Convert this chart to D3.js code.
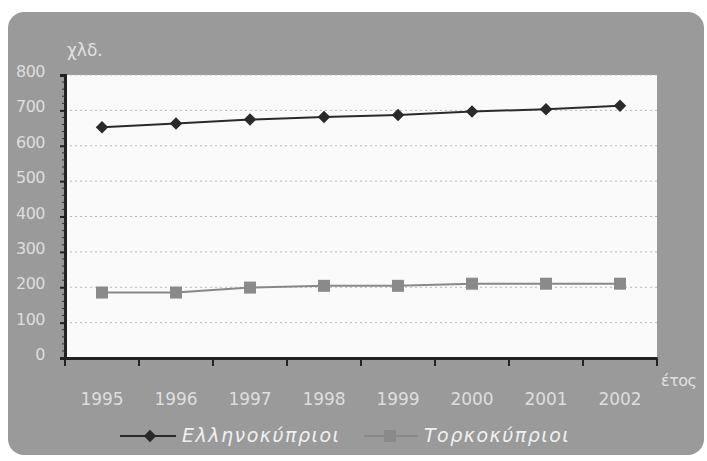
<!DOCTYPE html>
<html>
<head>
<meta charset="utf-8">
<script src="https://d3js.org/d3.v7.min.js"></script>
<style>
  body { margin: 0; background: #fff; }
  text { font-family: "DejaVu Sans", sans-serif; }
</style>
</head>
<body>
<div id="chart"></div>
<script>
// Δεδομένα (χιλιάδες)
const years = ["1995", "1996", "1997", "1998", "1999", "2000", "2001", "2002"];
const greekCypriots = [652, 663, 674, 681, 687, 697, 703, 713];
const turkishCypriots = [185, 185, 199, 204, 204, 210, 210, 210];
const yTicks = [0, 100, 200, 300, 400, 500, 600, 700, 800];

const width = 707;
const height = 461;
const margin = { top: 75, right: 50, bottom: 103, left: 65 };

const svg = d3.select("#chart").append("svg")
  .attr("width", width)
  .attr("height", height);

// Γκρι πλαίσιο
svg.append("rect")
  .attr("x", 8).attr("y", 12)
  .attr("width", 696).attr("height", 443)
  .attr("rx", 16)
  .attr("fill", "#9a9a9a");

const x = d3.scaleBand()
  .domain(years)
  .range([margin.left, width - margin.right]);

const y = d3.scaleLinear()
  .domain([0, 800])
  .range([height - margin.bottom, margin.top]);

// Περιοχή σχεδίασης
svg.append("rect")
  .attr("x", margin.left).attr("y", margin.top)
  .attr("width", width - margin.left - margin.right)
  .attr("height", height - margin.top - margin.bottom)
  .attr("fill", "#fafafa");

// Οριζόντιες γραμμές πλέγματος
svg.append("g")
  .selectAll("line")
  .data(yTicks.filter(d => d > 0))
  .join("line")
  .attr("x1", margin.left).attr("x2", width - margin.right)
  .attr("y1", d => y(d)).attr("y2", d => y(d))
  .attr("stroke", "#b8b8b8")
  .attr("stroke-width", 1)
  .attr("stroke-dasharray", "2,3");

// Άξονας y
const yAxis = svg.append("g")
  .attr("transform", `translate(${margin.left},0)`)
  .call(d3.axisLeft(y).tickValues(yTicks).tickSize(5).tickPadding(15));
yAxis.select(".domain").attr("stroke", "#222").attr("stroke-width", 3);
yAxis.selectAll(".tick line").attr("stroke", "#222").attr("stroke-width", 2);
yAxis.selectAll(".tick text")
  .attr("fill", "#dedede")
  .attr("dy", "0.1em")
  .style("font-size", "16px")
  .style("letter-spacing", "-0.5px");

// Μικρές υποδιαιρέσεις
svg.append("g")
  .selectAll("line")
  .data(d3.range(0, 801, 20).filter(d => d % 100 !== 0))
  .join("line")
  .attr("x1", margin.left - 3).attr("x2", margin.left)
  .attr("y1", d => y(d)).attr("y2", d => y(d))
  .attr("stroke", "#333")
  .attr("stroke-width", 1);

// Άξονας x
const xAxis = svg.append("g")
  .attr("transform", `translate(0,${height - margin.bottom})`)
  .call(d3.axisBottom(x).tickSize(0).tickPadding(35));
xAxis.select(".domain").attr("stroke", "#222").attr("stroke-width", 3);
xAxis.selectAll(".tick text")
  .attr("fill", "#dedede")
  .style("font-size", "17px");

// Υποδιαιρέσεις στα όρια των κατηγοριών
const bounds = years.map(d => x(d)).concat([x(years[years.length - 1]) + x.bandwidth()]);
svg.append("g")
  .selectAll("line")
  .data(bounds)
  .join("line")
  .attr("x1", d => d).attr("x2", d => d)
  .attr("y1", height - margin.bottom)
  .attr("y2", height - margin.bottom + 8)
  .attr("stroke", "#222")
  .attr("stroke-width", 2);

const cx = d => x(d) + x.bandwidth() / 2;

const line = d3.line()
  .x((d, i) => cx(years[i]))
  .y(d => y(d));

// Ελληνοκύπριοι
svg.append("path")
  .datum(greekCypriots)
  .attr("d", line)
  .attr("fill", "none")
  .attr("stroke", "#2a2a2a")
  .attr("stroke-width", 2);

svg.append("g")
  .selectAll("path")
  .data(greekCypriots)
  .join("path")
  .attr("transform", (d, i) => `translate(${cx(years[i])},${y(d)})`)
  .attr("d", d3.symbol(d3.symbolDiamond2, 100)())
  .attr("fill", "#2a2a2a");

// Τορκοκύπριοι
svg.append("path")
  .datum(turkishCypriots)
  .attr("d", line)
  .attr("fill", "none")
  .attr("stroke", "#888")
  .attr("stroke-width", 2);

svg.append("g")
  .selectAll("rect")
  .data(turkishCypriots)
  .join("rect")
  .attr("x", (d, i) => cx(years[i]) - 6)
  .attr("y", d => y(d) - 6)
  .attr("width", 12).attr("height", 12)
  .attr("fill", "#8a8a8a");

// Τίτλοι αξόνων
svg.append("text")
  .attr("x", 67).attr("y", 56)
  .attr("fill", "#e2e2e2")
  .style("font-size", "17px")
  .text("χλδ.");

svg.append("text")
  .attr("x", 661).attr("y", 386)
  .attr("fill", "#e2e2e2")
  .style("font-size", "16px")
  .style("letter-spacing", "-0.5px")
  .text("έτος");

// Υπόμνημα
const legend = svg.append("g");
legend.append("line")
  .attr("x1", 120).attr("x2", 176).attr("y1", 436).attr("y2", 436)
  .attr("stroke", "#2a2a2a").attr("stroke-width", 2);
legend.append("path")
  .attr("transform", "translate(150,436)")
  .attr("d", d3.symbol(d3.symbolDiamond2, 100)())
  .attr("fill", "#2a2a2a");
legend.append("text")
  .attr("x", 182).attr("y", 442)
  .attr("fill", "#f0f0f0")
  .style("font-size", "19px")
  .style("font-style", "italic")
  .style("letter-spacing", "1.5px")
  .text("Ελληνοκύπριοι");

legend.append("line")
  .attr("x1", 364).attr("x2", 418).attr("y1", 436).attr("y2", 436)
  .attr("stroke", "#888").attr("stroke-width", 2);
legend.append("rect")
  .attr("x", 384).attr("y", 430).attr("width", 12).attr("height", 12)
  .attr("fill", "#8a8a8a");
legend.append("text")
  .attr("x", 424).attr("y", 442)
  .attr("fill", "#f0f0f0")
  .style("font-size", "19px")
  .style("font-style", "italic")
  .style("letter-spacing", "1.5px")
  .text("Τορκοκύπριοι");
</script>
</body>
</html>
